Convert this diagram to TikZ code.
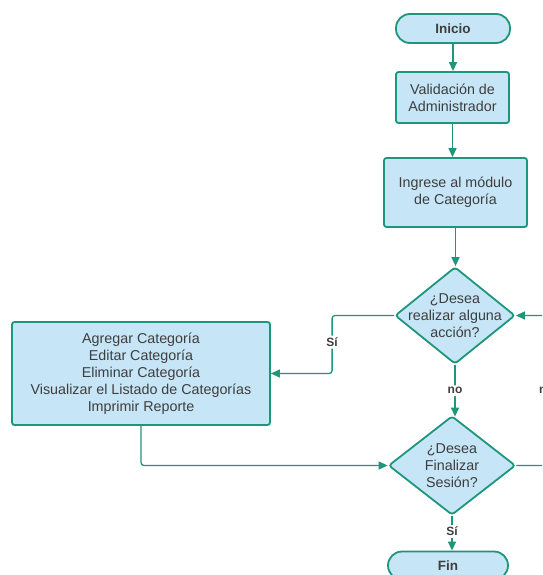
\documentclass[tikz,border=0pt]{standalone}
\usepackage{fontspec}
\setmainfont{Liberation Sans}
\usepackage{xcolor}
\definecolor{flowteal}{RGB}{30, 150, 122}
\definecolor{boxblue}{RGB}{198, 229, 246}
\definecolor{textgray}{RGB}{62, 62, 62}
\usepackage{tikz}
\usetikzlibrary{shapes.geometric, arrows.meta, positioning, calc}
\tikzset{
  terminal/.style={rectangle, rounded corners=14pt, draw=flowteal, fill=boxblue, line width=1.8pt, minimum width=#1, minimum height=29pt, font=\fontsize{13.5}{16}\selectfont\bfseries, text=textgray},
  process/.style={rectangle, rounded corners=2.5pt, draw=flowteal, fill=boxblue, line width=1.8pt, align=center, font=\fontsize{14.3}{17}\selectfont, text=textgray, inner sep=0pt},
  decision/.style={diamond, rounded corners=3pt, draw=flowteal, fill=boxblue, line width=1.8pt, minimum width=#1, inner sep=0pt},
  dtext/.style={align=center, font=\fontsize{14.3}{17}\selectfont, text=textgray},
  flow/.style={draw=flowteal, line width=1.3pt, rounded corners=3pt, -{Triangle[length=9pt, width=8pt]}},
  flowlabel/.style={font=\fontsize{12}{14}\selectfont\bfseries, text=textgray, fill=white, inner sep=2pt},
}

\begin{document}
\begin{tikzpicture}[x=1pt, y=-1pt]
\clip (0,0) rectangle (542,575);
\useasboundingbox (0,0) rectangle (542,575);
\fill[white] (0,0) rectangle (542,575);

% main column
\node[terminal=114pt] (inicio) at (453,28.5) {Inicio};
\node[process, minimum width=113pt, minimum height=51pt] (valida) at (452.5,97.5) {Validación de\\Administrador};
\node[process, minimum width=143pt, minimum height=69pt] (ingrese) at (455.5,192.5) {Ingrese al módulo\\de Categoría};
\node[decision=120pt, minimum height=97pt, label={[dtext]center:{¿Desea\\realizar alguna\\acción?}}] (accion) at (455,315.5) {};
\node[decision=127pt, minimum height=99pt, label={[dtext]center:{¿Desea\\Finalizar\\Sesión?}}] (finalizar) at (452,465.5) {};
\node[terminal=120pt, minimum height=28pt] (fin) at (448,565.5) {Fin};

% options box
\node[process, minimum width=258pt, minimum height=103pt] (opciones) at (141,373.5) {Agregar Categoría\\Editar Categoría\\Eliminar Categoría\\Visualizar el Listado de Categorías\\Imprimir Reporte};

% connectors
\draw[flow] (inicio.south) -- (inicio.south |- valida.north);
\draw[flow] (valida.south) -- (valida.south |- ingrese.north);
\draw[flow] (ingrese.south) -- (ingrese.south |- accion.north);
\draw[flow] (accion.west) -- ++(-62,0) |- (opciones.east) node[flowlabel, pos=0.23] {Sí};
\draw[flow] (opciones.south) |- (finalizar.west);
\draw[flow] (accion.south) -- ($(accion.south |- finalizar.north)+(0,1.5)$) node[flowlabel, midway] {no};
\draw[flow] (finalizar.south) -- (finalizar.south |- fin.north) node[flowlabel, pos=0.45] {Sí};
\draw[flow] (finalizar.east) -- ++(30,0) |- (accion.east) node[flowlabel, pos=0.25] {no};
\end{tikzpicture}
\end{document}
